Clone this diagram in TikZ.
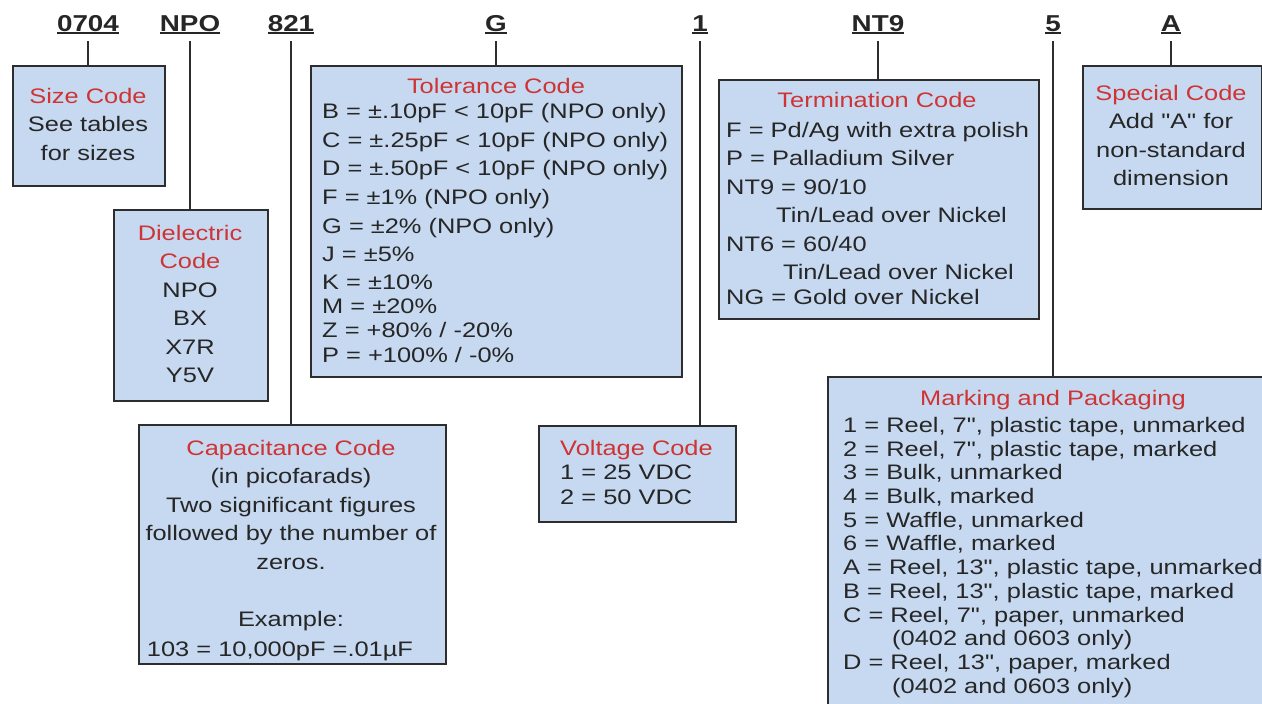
\documentclass[tikz,border=0pt]{standalone}
\usepackage{fontspec}
\setmainfont{Liberation Sans}[FakeStretch=1.21, Ligatures=TeXOff]
\usepackage{tikz}
\usetikzlibrary{positioning}
\usepackage{xcolor}

\definecolor{boxfill}{RGB}{198,217,240}
\definecolor{boxline}{RGB}{45,45,45}
\definecolor{titlered}{RGB}{206,52,52}
\definecolor{bodytext}{RGB}{38,38,38}

\newcommand{\hd}[1]{\textcolor{titlered}{#1}}
\newsavebox{\pnbox}
\newcommand{\partno}[1]{\sbox{\pnbox}{#1}\rlap{\rule[-2.8pt]{\wd\pnbox}{1.6pt}}\usebox{\pnbox}}

\begin{document}
\begin{tikzpicture}[x=1pt, y=-1pt,
  codebox/.style={draw=boxline, line width=1.8pt, fill=boxfill, inner sep=0pt, anchor=north west},
  partcode/.style={font=\fontsize{23}{26}\selectfont\bfseries, text=bodytext, anchor=base,
    inner sep=0pt, text depth=0pt, inner ysep=10pt},
  lead/.style={draw=boxline, line width=1.5pt},
  ctext/.style={inner sep=0pt, anchor=north, align=center, text=bodytext, font=\fontsize{21}{28.5}\selectfont},
  ltext/.style={ctext, anchor=north west, align=left},
  title/.style={inner sep=0pt, anchor=base, text=titlered, font=\fontsize{21}{24}\selectfont}]
  \useasboundingbox (0,0) rectangle (1262,704);
  \fill[white] (0,0) rectangle (1262,704);
  \clip (0,0) rectangle (1262,704);

  % part number
  \node[partcode] (c0704) at (88,31)   {\partno{0704}};
  \node[partcode] (cNPO)  at (190,31)  {\partno{NPO}};
  \node[partcode] (c821)  at (291,31)  {\partno{821}};
  \node[partcode] (cG)    at (496,31)  {\partno{G}};
  \node[partcode] (c1)    at (700,31)  {\partno{1}};
  \node[partcode] (cNT9)  at (878,31)  {\partno{NT9}};
  \node[partcode] (c5)    at (1053,31) {\partno{5}};
  \node[partcode] (cA)    at (1171,31) {\partno{A}};

  % boxes
  \node[codebox, minimum width=152, minimum height=120] (size) at (12,65) {};
  \node[codebox, minimum width=154, minimum height=191] (diel) at (113,209) {};
  \node[codebox, minimum width=307, minimum height=239] (cap)  at (138,424) {};
  \node[codebox, minimum width=371, minimum height=311] (tol)  at (310,65) {};
  \node[codebox, minimum width=197, minimum height=96]  (volt) at (538,425) {};
  \node[codebox, minimum width=320, minimum height=239] (term) at (718,79) {};
  \node[codebox, minimum width=452, minimum height=340] (mark) at (827,376) {};
  \node[codebox, minimum width=179, minimum height=143] (spec) at (1082,65) {};

  \foreach \c/\b in {c0704/size, cNPO/diel, c821/cap, cG/tol, c1/volt, cNT9/term, c5/mark, cA/spec}
    \draw[lead] (\c.south) -- (\c.south |- \b.north);

  % box texts
  \node[ctext] (sizetxt) at (88,88) {\hd{Size Code}\\See tables\\for sizes};
  \node[ctext] (dieltxt) at (190,225) {\hd{Dielectric}\\\hd{Code}\\NPO\\BX\\X7R\\Y5V};
  \node[ctext] (captxt) at (291,440) {\hd{Capacitance Code}\\(in picofarads)\\Two significant figures\\
    followed by the number of\\zeros.\\[28.5pt]Example:\\[1.5pt]103 = 10,000pF =.01µF\hspace*{22pt}};

  \node[title] (toltitle) at (496,93) {Tolerance Code};
  \node[ltext, font=\fontsize{21}{28.7}\selectfont] (tollist) at (322,103)
    {B = ±.10pF < 10pF (NPO only)\\C = ±.25pF < 10pF (NPO only)\\D = ±.50pF < 10pF (NPO only)\\
     F = ±1\% (NPO only)\\G = ±2\% (NPO only)\\J = ±5\%\\[-1.5pt]K = ±10\%\\[-4.5pt]M = ±20\%\\[-4.5pt]
     Z = +80\% / -20\%\\[-4pt]P = +100\% / -0\%};

  \node[ltext, font=\fontsize{21}{24.5}\selectfont] (volttxt) at (560,440)
    {\hd{Voltage Code}\\1 = 25 VDC\\2 = 50 VDC};

  \node[title] (termtitle) at (877,107) {Termination Code};
  \node[ltext] (termlist) at (726,122)
    {F = Pd/Ag with extra polish\\P = Palladium Silver\\NT9 = 90/10\\\hspace*{50pt}Tin/Lead over Nickel\\
     NT6 = 60/40\\\hspace*{57pt}Tin/Lead over Nickel\\[-3.5pt]NG = Gold over Nickel};

  \node[ctext] (spectxt) at (1171,85) {\hd{Special Code}\\Add "A" for\\non-standard\\dimension};

  \node[title] (marktitle) at (1053,405) {Marking and Packaging};
  \node[ltext, font=\fontsize{21}{23.7}\selectfont] (marklist) at (843,417)
    {1 = Reel, 7", plastic tape, unmarked\\2 = Reel, 7", plastic tape, marked\\3 = Bulk, unmarked\\
     4 = Bulk, marked\\5 = Waffle, unmarked\\6 = Waffle, marked\\A = Reel, 13", plastic tape, unmarked\\
     B = Reel, 13", plastic tape, marked\\C = Reel, 7", paper, unmarked\\\hspace*{49pt}(0402 and 0603 only)\\
     D = Reel, 13", paper, marked\\\hspace*{49pt}(0402 and 0603 only)};
\end{tikzpicture}
\end{document}
